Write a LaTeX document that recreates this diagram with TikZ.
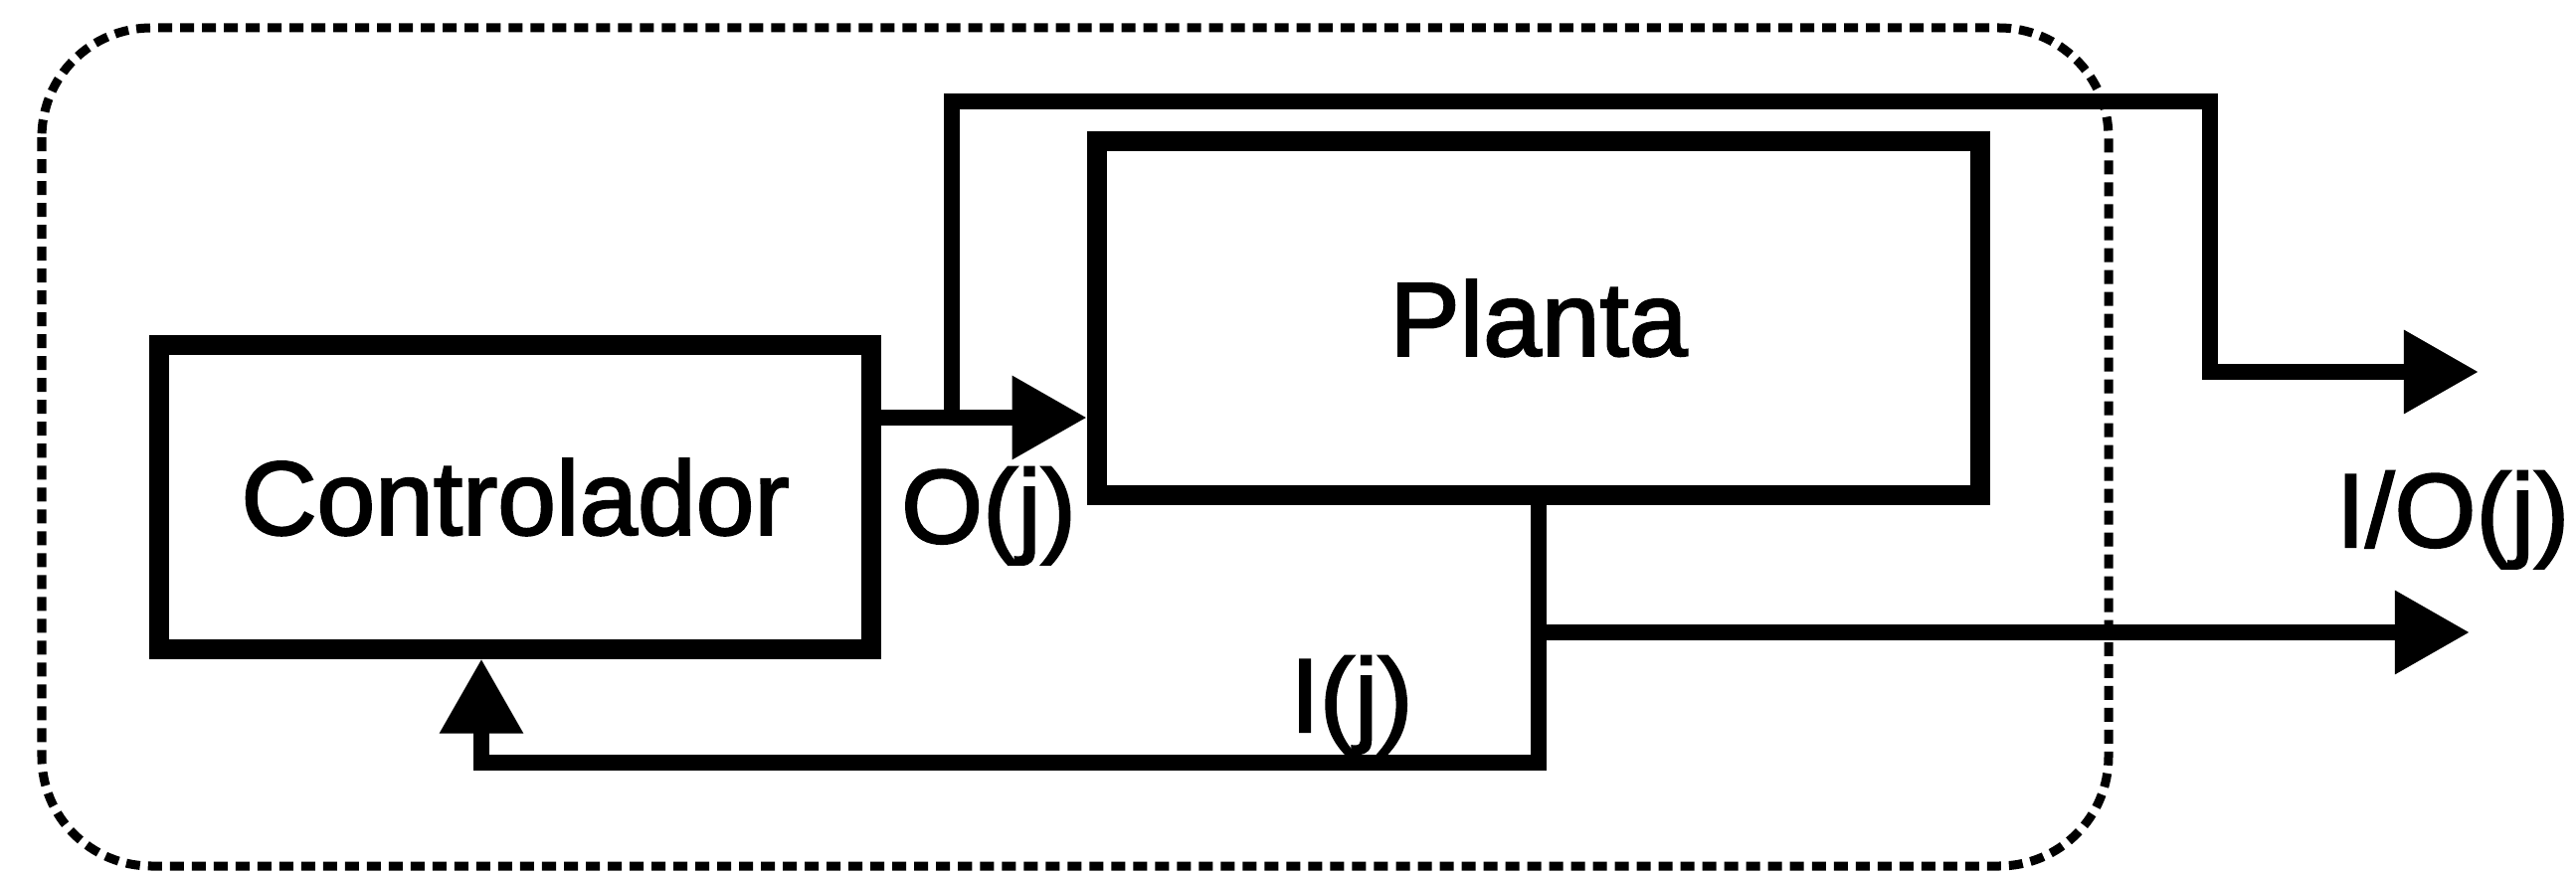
\documentclass[tikz,border=0pt]{standalone}
\usepackage{fontspec}
\setmainfont{Liberation Sans}[FakeBold=2]
\usetikzlibrary{arrows.meta}
\tikzset{
  box/.style = {draw, line width=.2cm, inner sep=0pt},
  conn/.style = {line width=.16cm},
  tip/.style = {-{Triangle[length=.75cm,width=.8cm]}},
  frame/.style = {line width=.09cm, dash pattern=on .14cm off .08cm,
    rounded corners=1.1cm},
  lbl/.style = {inner sep=0pt, anchor=base}
}
\begin{document}
\begin{tikzpicture}[x=.01cm, y=-.01cm, font=\fontsize{30}{36}\selectfont]
    \useasboundingbox (0,0) rectangle (2590,879);
    \draw [frame] (42,28) rectangle (2120,871);
    \node (ctrl) [box, minimum width=7.16cm, minimum height=3.05cm]
      at (518,500) {Controlador};
    \node (plant) [box, minimum width=8.88cm, minimum height=3.55cm]
      at (1547,320) {Planta};
    \coordinate (jo) at (957,420);
    \coordinate (topr) at (2222,102);
    \coordinate (outo) at (2492,374);
    \coordinate (ji) at (1547,636);
    \coordinate (outi) at (2483,636);
    \coordinate (botl) at (484,767);
    \draw [conn] (jo -| ctrl.east) -- (jo);
    \draw [conn, tip] (jo) -- (jo -| plant.west);
    \draw [conn, tip] (jo) |- (topr) |- (outo);
    \draw [conn, tip] (plant.south) |- (botl) -- (botl |- ctrl.south);
    \draw [conn, tip] (ji) -- (outi);
    \node (olbl) [lbl] at (994,546) {O(j)};
    \node (ilbl) [lbl] at (1359,736) {I(j)};
    \node (iolbl) [lbl] at (2466,550) {I/O(j)};
  \end{tikzpicture}
\end{document}
